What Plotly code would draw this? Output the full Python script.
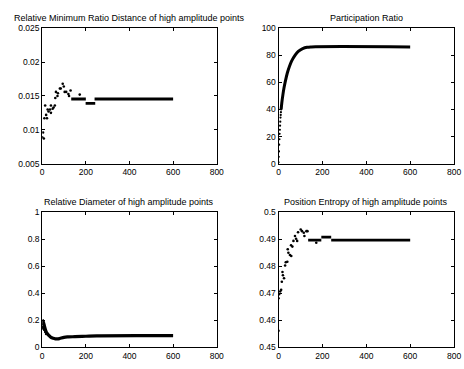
import plotly.graph_objects as go

W, H = 464, 369

# ---- Relative Minimum Ratio Distance ----
rmrd_x = [0, 4, 7.5, 10, 13.5, 18, 22, 25, 29, 36, 40, 40, 48, 52, 58, 60, 63, 70, 72, 81, 85, 94, 99, 103, 110, 120, 123, 130, 172]
rmrd_y = [0.0089, 0.0096, 0.0087, 0.0117, 0.0136, 0.0122, 0.0117, 0.0130, 0.0127, 0.0130, 0.0136, 0.0125, 0.0131, 0.0133, 0.0136, 0.0147, 0.0156, 0.0150, 0.0154, 0.0161, 0.0161, 0.0168, 0.0164, 0.0156, 0.0156, 0.0153, 0.0150, 0.0158, 0.0152]
rmrd_seg_x = [[133, 200], [199, 243], [240, 600]]
rmrd_seg_y = [[0.01455, 0.01455], [0.0139, 0.0139], [0.01455, 0.01455]]

# ---- Participation Ratio ----
pr_dot_x = [0, 1, 2, 3, 4, 5, 6, 7, 8, 9, 10, 11, 12]
pr_dot_y = [1, 5, 9, 14, 18, 22, 25, 28, 31, 34, 36, 38, 40]
pr_x = [12, 15, 20, 25, 30, 40, 50, 60, 75, 90, 110, 130, 150, 600]
pr_y = [40, 45, 51, 56, 60, 67, 72, 76, 80, 83, 85, 86, 86.3, 86.3]

# ---- Relative Diameter ----
rd_x = [0, 5, 10, 15, 20, 30, 40, 50, 60, 70, 80, 100, 120, 150, 200, 250, 600]
rd_y = [0.205, 0.19, 0.16, 0.13, 0.11, 0.09, 0.075, 0.068, 0.064, 0.063, 0.066, 0.075, 0.078, 0.08, 0.083, 0.086, 0.087]
rd_dot_x = [0, 2, 3, 5, 8, 10, 14, 18]
rd_dot_y = [0.17, 0.15, 0.15, 0.14, 0.135, 0.13, 0.115, 0.10]

# ---- Position Entropy ----
pe_x = [0, 0, 3, 7.5, 12, 15, 18, 20, 25, 30, 33, 40, 42, 45, 52, 58, 57, 63, 68, 75, 80, 85, 89, 101, 107, 115, 118, 127, 132, 172]
pe_y = [0.4562, 0.4682, 0.4697, 0.4707, 0.4713, 0.4743, 0.4779, 0.4767, 0.4756, 0.4803, 0.4815, 0.4817, 0.4863, 0.4850, 0.4842, 0.4838, 0.4878, 0.4873, 0.4894, 0.4912, 0.4902, 0.4894, 0.4926, 0.4936, 0.4930, 0.4924, 0.4912, 0.4930, 0.4930, 0.4887]
pe_seg_x = [[135, 195], [195, 240], [240, 600]]
pe_seg_y = [[0.4897, 0.4897], [0.4908, 0.4908], [0.4897, 0.4897]]

titles = ["Relative Minimum Ratio Distance of high amplitude points",
          "Participation Ratio",
          "Relative Diameter of high amplitude points",
          "Position Entropy of high amplitude points"]

FONT = "Arial, Liberation Sans, Helvetica, sans-serif"

def px(x):
    return x / W

def py(y):
    return 1 - y / H

domains = [
    ((41, 219), (24, 163)),
    ((282, 461), (24, 163)),
    ((41, 219), (213, 352)),
    ((282, 461), (213, 352)),
]
yranges = [[0.005, 0.025], [0, 100], [0, 1], [0.45, 0.5]]
ydticks = [0.005, 20, 0.2, 0.01]

fig = go.Figure()

def dots(x, y, k, size=2.6):
    fig.add_trace(go.Scatter(x=x, y=y, mode="markers", xaxis="x" + ("" if k == 1 else str(k)),
                             yaxis="y" + ("" if k == 1 else str(k)),
                             marker=dict(color="black", size=size, symbol="circle", line=dict(width=0)),
                             showlegend=False, hoverinfo="skip"))

def line(x, y, k, width=3):
    fig.add_trace(go.Scatter(x=x, y=y, mode="lines", xaxis="x" + ("" if k == 1 else str(k)),
                             yaxis="y" + ("" if k == 1 else str(k)),
                             line=dict(color="black", width=width, shape="spline"),
                             showlegend=False, hoverinfo="skip"))

dots(rmrd_x, rmrd_y, 1)
for sx, sy in zip(rmrd_seg_x, rmrd_seg_y):
    line(sx, sy, 1, 2.8)

dots(pr_dot_x, pr_dot_y, 2, 2.2)
line(pr_x, pr_y, 2, 3)

line(rd_x, rd_y, 3, 3.2)
dots(rd_dot_x, rd_dot_y, 3, 2.6)

dots(pe_x, pe_y, 4)
for sx, sy in zip(pe_seg_x, pe_seg_y):
    line(sx, sy, 4, 2.8)

layout = dict(width=W, height=H, margin=dict(l=0, r=0, t=0, b=0),
              paper_bgcolor="white", plot_bgcolor="white",
              font=dict(family=FONT, size=8, color="black"), showlegend=False)

annotations = []
for i, ((x0, x1), (y0, y1)) in enumerate(domains):
    k = i + 1
    sfx = "" if k == 1 else str(k)
    common = dict(showgrid=False, zeroline=False, showline=True, linecolor="black", linewidth=1,
                  mirror="ticks", ticks="inside", ticklen=3, tickcolor="black", tickwidth=1,
                  tickfont=dict(family=FONT, size=8.5, color="black"))
    layout["xaxis" + sfx] = dict(domain=[px(x0), px(x1)], range=[0, 800], dtick=200,
                                 anchor="y" + sfx, **common)
    yr = yranges[i]
    layout["yaxis" + sfx] = dict(domain=[py(y1), py(y0)], range=yr, dtick=ydticks[i], tick0=yr[0],
                                 anchor="x" + sfx, **common)
    annotations.append(dict(text=titles[i], x=px((x0 + x1) / 2), y=py(y0 - 11), xref="paper", yref="paper",
                            xanchor="center", yanchor="middle", showarrow=False,
                            font=dict(family=FONT, size=9, color="black")))
layout["annotations"] = annotations
fig.update_layout(**layout)

fig.write_html("out.html")
